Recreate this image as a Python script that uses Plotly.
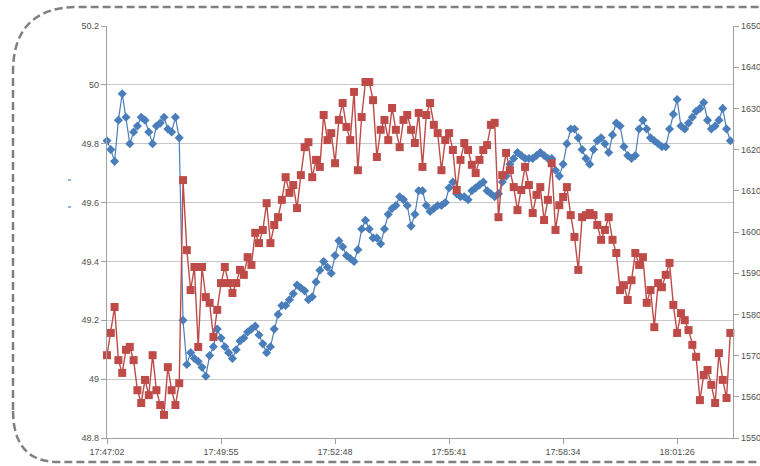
import plotly.graph_objects as go

tick_labels = ["17:47:02", "17:49:55", "17:52:48", "17:55:41", "17:58:34", "18:01:26"]
tick_idx = [0, 30, 60, 90, 120, 150]

blue = [49.81, 49.78, 49.74, 49.88, 49.97, 49.89, 49.80, 49.84, 49.86, 49.89,
        49.88, 49.84, 49.80, 49.86, 49.87, 49.89, 49.85, 49.84, 49.89, 49.82,
        49.20, 49.05, 49.09, 49.07, 49.06, 49.04, 49.01, 49.08, 49.11, 49.17,
        49.14, 49.11, 49.09, 49.07, 49.10, 49.13, 49.14, 49.16, 49.17, 49.18,
        49.15, 49.12, 49.09, 49.11, 49.17, 49.22, 49.25, 49.25, 49.27, 49.29,
        49.32, 49.31, 49.30, 49.27, 49.28, 49.33, 49.37, 49.40, 49.38, 49.36,
        49.42, 49.47, 49.45, 49.42, 49.41, 49.40, 49.44, 49.51, 49.54, 49.51,
        49.48, 49.48, 49.46, 49.51, 49.56, 49.58, 49.59, 49.62, 49.61, 49.59,
        49.52, 49.56, 49.64, 49.64, 49.59, 49.57, 49.58, 49.59, 49.59, 49.60,
        49.65, 49.67, 49.63, 49.62, 49.62, 49.61, 49.64, 49.65, 49.66, 49.67,
        49.64, 49.63, 49.62, 49.63, 49.67, 49.69, 49.73, 49.75, 49.77, 49.76,
        49.75, 49.75, 49.75, 49.76, 49.77, 49.76, 49.75, 49.75, 49.71, 49.69,
        49.73, 49.80, 49.85, 49.85, 49.82, 49.78, 49.75, 49.73, 49.78, 49.81,
        49.82, 49.80, 49.77, 49.83, 49.87, 49.86, 49.79, 49.76, 49.75, 49.76,
        49.85, 49.88, 49.85, 49.82, 49.81, 49.80, 49.79, 49.79, 49.85, 49.90,
        49.95, 49.86, 49.85, 49.87, 49.89, 49.91, 49.92, 49.94, 49.88, 49.85,
        49.86, 49.88, 49.92, 49.85, 49.81]

red = [1570.1, 1575.5, 1581.8, 1568.9, 1565.8, 1571.4, 1572.1, 1568.9, 1561.6, 1558.5,
       1564.1, 1560.4, 1570.1, 1561.6, 1558.0, 1555.6, 1567.2, 1561.6, 1558.0, 1563.3,
       1612.6, 1595.6, 1585.9, 1591.5, 1572.1, 1591.5, 1584.2, 1582.8, 1574.5, 1581.1,
       1587.6, 1591.5, 1587.6, 1585.2, 1587.6, 1590.8, 1589.6, 1593.9, 1592.0, 1599.8,
       1597.3, 1600.5, 1607.0, 1597.3, 1601.7, 1603.6, 1607.8, 1613.3, 1609.5, 1611.4,
       1605.8, 1613.8, 1620.6, 1621.8, 1613.3, 1617.5, 1615.8, 1628.4, 1622.3, 1624.0,
       1616.7, 1627.2, 1631.3, 1625.5, 1622.3, 1634.0, 1615.0, 1627.9, 1636.4, 1636.4,
       1632.0, 1618.2, 1624.8, 1627.2, 1622.3, 1630.1, 1624.8, 1620.6, 1627.2, 1628.4,
       1624.8, 1621.6, 1628.9, 1615.8, 1628.4, 1631.3, 1626.0, 1624.0, 1615.0, 1622.3,
       1624.0, 1619.9, 1610.2, 1617.5, 1621.6, 1619.9, 1616.3, 1614.3, 1617.5, 1619.9,
       1621.1, 1626.0, 1626.5, 1603.6, 1613.8, 1619.2, 1615.0, 1610.9, 1605.3, 1610.2,
       1615.8, 1611.4, 1604.6, 1609.0, 1610.9, 1602.9, 1607.8, 1616.7, 1600.5, 1606.5,
       1608.5, 1610.9, 1604.1, 1598.8, 1590.8, 1603.6, 1604.1, 1604.6, 1604.1, 1601.7,
       1598.1, 1600.5, 1603.6, 1598.1, 1594.9, 1585.9, 1587.1, 1583.5, 1588.3, 1594.9,
       1592.0, 1593.9, 1582.8, 1585.9, 1576.9, 1587.6, 1586.6, 1589.6, 1592.5, 1582.3,
       1575.5, 1580.3, 1578.6, 1576.2, 1572.6, 1569.7, 1559.2, 1565.3, 1566.5, 1562.9,
       1558.5, 1570.6, 1564.1, 1559.7, 1575.5]

left_ticks = [48.8, 49.0, 49.2, 49.4, 49.6, 49.8, 50.0, 50.2]
left_text = ["48.8", "49", "49.2", "49.4", "49.6", "49.8", "50", "50.2"]
right_ticks = [1550, 1560, 1570, 1580, 1590, 1600, 1610, 1620, 1630, 1640, 1650]

x = list(range(len(blue)))

BLUE = "#4A7EBB"
RED = "#BE4B48"
TXT = "#505050"
FONT = dict(family="Liberation Sans, Arial, sans-serif", size=9, color=TXT)

fig = go.Figure()
fig.add_trace(go.Scatter(
    x=x, y=blue, mode="lines+markers", cliponaxis=False,
    line=dict(color=BLUE, width=1.2),
    marker=dict(symbol="diamond", size=7, color=BLUE, line=dict(width=0)),
    showlegend=False))
fig.add_trace(go.Scatter(
    x=x, y=red, mode="lines+markers", yaxis="y2", cliponaxis=False,
    line=dict(color=RED, width=1.4),
    marker=dict(symbol="square", size=8, color=RED, line=dict(width=0)),
    showlegend=False))

W, H = 760, 466
L, R, T, B = 107, 733, 26, 438


def px(v):
    return (v - L) / (R - L)


def py(v):
    return (B - v) / (B - T)


border = (f"M {px(13)},{py(410)} L {px(13)},{py(72)} "
          f"Q {px(13)},{py(7)} {px(78)},{py(7)} L {px(820)},{py(7)} "
          f"L {px(820)},{py(462)} L {px(58)},{py(462)} "
          f"Q {px(13)},{py(462)} {px(13)},{py(410)}")

shapes = [
    dict(type="path", xref="paper", yref="paper", path=border,
         line=dict(color="#808080", width=2.5, dash="8px,4px"), layer="above"),
    dict(type="rect", xref="paper", yref="paper",
         x0=px(68), x1=px(71), y0=py(181), y1=py(179),
         line=dict(width=0), fillcolor="#8FB3DF"),
    dict(type="rect", xref="paper", yref="paper",
         x0=px(68), x1=px(71), y0=py(208), y1=py(206),
         line=dict(width=0), fillcolor="#8FB3DF"),
]

fig.update_layout(
    width=W, height=H,
    margin=dict(l=L, r=W - R, t=T, b=H - B, autoexpand=False),
    paper_bgcolor="white", plot_bgcolor="white",
    font=FONT,
    shapes=shapes,
    xaxis=dict(
        range=[0, 164.7], tickvals=tick_idx, ticktext=tick_labels,
        showgrid=False, zeroline=False, automargin=False,
        showline=True, linecolor="#A0A0A0", linewidth=1.2,
        ticks="outside", ticklen=5, tickcolor="#A0A0A0",
        tickfont=FONT),
    yaxis=dict(
        range=[48.8, 50.2], tickvals=left_ticks, ticktext=left_text,
        showgrid=True, gridcolor="#C8C8C8", gridwidth=1.2, zeroline=False,
        automargin=False,
        showline=True, linecolor="#A0A0A0", linewidth=1.2,
        ticks="outside", ticklen=5, tickcolor="#A0A0A0",
        tickfont=FONT),
    yaxis2=dict(
        range=[1550, 1650], tickvals=right_ticks, overlaying="y", side="right",
        showgrid=False, zeroline=False, automargin=False,
        showline=True, linecolor="#A0A0A0", linewidth=1.2,
        ticks="outside", ticklen=5, tickcolor="#A0A0A0",
        tickfont=FONT),
)

fig.write_html("out.html", config={"displayModeBar": False},
               post_script="document.body.style.margin='0';")
